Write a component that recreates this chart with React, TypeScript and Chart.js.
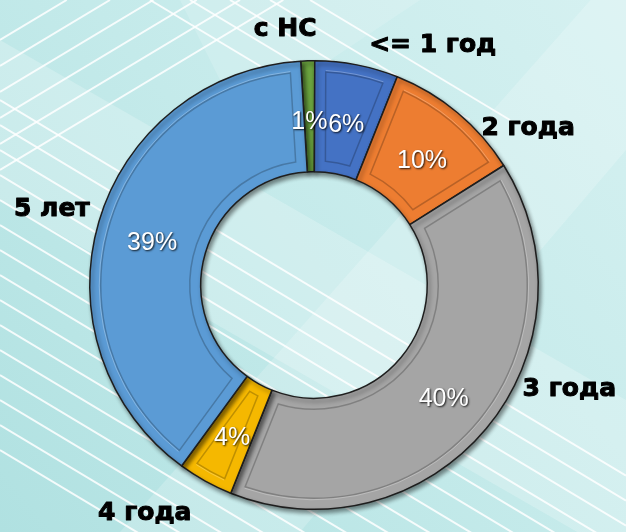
import React, { useEffect, useRef } from "react";
import { Chart, registerables } from "chart.js";

Chart.register(...registerables);

const CATEGORIES = ["с НС", "<= 1 год", "2 года", "3 года", "4 года", "5 лет"];
const VALUES = [1, 6, 10, 40, 4, 39];
const PERCENT_LABELS = ["1%", "6%", "10%", "40%", "4%", "39%"];
const COLORS = ["#6aa23f", "#4472c4", "#ed7d31", "#a5a5a5", "#f5b800", "#5b9bd5"];
const NAME_ANGLE_SHIFT = [-4.8, 15.2, 13.7, -17.9, 7.8, 0.1];
const NAME_RADIUS_RATIO = [1.154, 1.199, 1.188, 1.227, 1.26, 1.219];

const W = 626;
const H = 532;

const backgroundPlugin = {
  id: "bgDecor",
  beforeDraw(chart: any) {
    const ctx = chart.ctx as CanvasRenderingContext2D;
    ctx.save();
    const g = ctx.createLinearGradient(0, H, W, 0);
    g.addColorStop(0, "#b0e1e1");
    g.addColorStop(0.5, "#c4eaea");
    g.addColorStop(1, "#d6f1f1");
    ctx.fillStyle = g;
    ctx.fillRect(0, 0, W, H);
    // lighter crossing bands
    ctx.fillStyle = "rgba(255,255,255,0.22)";
    ctx.beginPath();
    ctx.moveTo(0, 40);
    ctx.lineTo(0, 200);
    ctx.lineTo(W, 560);
    ctx.lineTo(W, 400);
    ctx.closePath();
    ctx.fill();
    ctx.fillStyle = "rgba(255,255,255,0.2)";
    ctx.beginPath();
    ctx.moveTo(120, H);
    ctx.lineTo(300, H);
    ctx.lineTo(W, 150);
    ctx.lineTo(W, -40);
    ctx.closePath();
    ctx.fill();
    ctx.fillStyle = "rgba(255,255,255,0.15)";
    ctx.beginPath();
    ctx.moveTo(180, 0);
    ctx.lineTo(420, 0);
    ctx.lineTo(240, 120);
    ctx.closePath();
    ctx.fill();

    ctx.strokeStyle = "rgba(255,255,255,0.85)";
    ctx.lineWidth = 2;
    const slope = 0.6;
    // "\" lines from the left across the picture
    for (let i = 0; i < 15; i++) {
      const y0 = 100 + i * 25;
      ctx.beginPath();
      ctx.moveTo(0, y0);
      ctx.lineTo(W, y0 + W * slope);
      ctx.stroke();
    }
    // "\" lines in the upper middle
    for (let i = 0; i < 5; i++) {
      const x0 = 150 + i * 40;
      ctx.beginPath();
      ctx.moveTo(x0, 0);
      ctx.lineTo(x0 + 200, 200 * slope);
      ctx.stroke();
    }
    // "/" lines top left
    for (let i = 0; i < 6; i++) {
      const y0 = 40 + i * 26;
      ctx.beginPath();
      ctx.moveTo(0, y0);
      ctx.lineTo(y0 / slope, 0);
      ctx.stroke();
    }
    ctx.restore();
  },
  beforeDatasetsDraw(chart: any) {
    const ctx = chart.ctx as CanvasRenderingContext2D;
    ctx.save();
    ctx.shadowColor = "rgba(0,0,0,0.45)";
    ctx.shadowBlur = 4;
    ctx.shadowOffsetX = 2;
    ctx.shadowOffsetY = 3;
  },
  afterDatasetsDraw(chart: any) {
    const ctx = chart.ctx as CanvasRenderingContext2D;
    ctx.restore();
    const meta = chart.getDatasetMeta(0);
    ctx.save();
    // bevel insets
    meta.data.forEach((arc: any) => {
      const { x, y, startAngle, endAngle, innerRadius, outerRadius } = arc.getProps(
        ["x", "y", "startAngle", "endAngle", "innerRadius", "outerRadius"],
        true
      );
      const inset = 11;
      const ro = outerRadius - inset;
      const ri = innerRadius + inset;
      const aoS = startAngle + inset / ro;
      const aoE = endAngle - inset / ro;
      const aiS = startAngle + inset / ri;
      const aiE = endAngle - inset / ri;
      if (aoE <= aoS || aiE <= aiS) return;
      ctx.beginPath();
      ctx.arc(x, y, ro, aoS, aoE);
      ctx.arc(x, y, ri, aiE, aiS, true);
      ctx.closePath();
      ctx.strokeStyle = "rgba(0,0,0,0.22)";
      ctx.lineWidth = 1.5;
      ctx.stroke();
      ctx.beginPath();
      ctx.arc(x, y, ro + 1.5, aoS, aoE);
      ctx.strokeStyle = "rgba(255,255,255,0.25)";
      ctx.lineWidth = 1;
      ctx.stroke();
    });
    // percent labels
    ctx.font = '25px "Liberation Sans", Arial, sans-serif';
    ctx.textAlign = "center";
    ctx.textBaseline = "middle";
    meta.data.forEach((arc: any, i: number) => {
      const p = arc.tooltipPosition(true);
      ctx.save();
      ctx.shadowColor = "rgba(0,0,0,0.85)";
      ctx.shadowBlur = 2;
      ctx.shadowOffsetX = 1;
      ctx.shadowOffsetY = 1;
      ctx.fillStyle = "#ffffff";
      ctx.fillText(PERCENT_LABELS[i], p.x, p.y + 6);
      ctx.restore();
    });
    // category labels
    ctx.font = 'bold 25px "DejaVu Sans", sans-serif';
    ctx.fillStyle = "#000000";
    ctx.strokeStyle = "#000000";
    ctx.lineWidth = 1;
    ctx.lineJoin = "round";
    meta.data.forEach((arc: any, i: number) => {
      const { x, y, startAngle, endAngle, outerRadius } = arc.getProps(
        ["x", "y", "startAngle", "endAngle", "outerRadius"],
        true
      );
      const mid = (startAngle + endAngle) / 2 + (NAME_ANGLE_SHIFT[i] * Math.PI) / 180;
      const r = outerRadius * NAME_RADIUS_RATIO[i];
      const tx = x + r * Math.cos(mid);
      const ty = y + r * Math.sin(mid) + 2;
      ctx.strokeText(CATEGORIES[i], tx, ty);
      ctx.fillText(CATEGORIES[i], tx, ty);
    });
    ctx.restore();
  },
};

export default function App() {
  const ref = useRef<HTMLCanvasElement | null>(null);
  useEffect(() => {
    if (!ref.current) return;
    const chart = new Chart(ref.current, {
      type: "doughnut",
      data: {
        labels: CATEGORIES,
        datasets: [
          {
            data: VALUES,
            backgroundColor: COLORS,
            borderColor: "#1e1e1e",
            borderWidth: 1.5,
          },
        ],
      },
      options: {
        responsive: false,
        animation: false,
        rotation: -3.4,
        cutout: "50.5%",
        layout: { padding: { left: 89, right: 87, top: 60, bottom: 22 } },
        plugins: {
          legend: { display: false },
          tooltip: { enabled: false },
        },
      },
      plugins: [backgroundPlugin],
    });
    return () => chart.destroy();
  }, []);
  return (
    <div style={{ position: "fixed", left: 0, top: 0, width: W, height: H }}>
      <canvas ref={ref} width={W} height={H} style={{ width: W, height: H, display: "block" }} />
    </div>
  );
}
